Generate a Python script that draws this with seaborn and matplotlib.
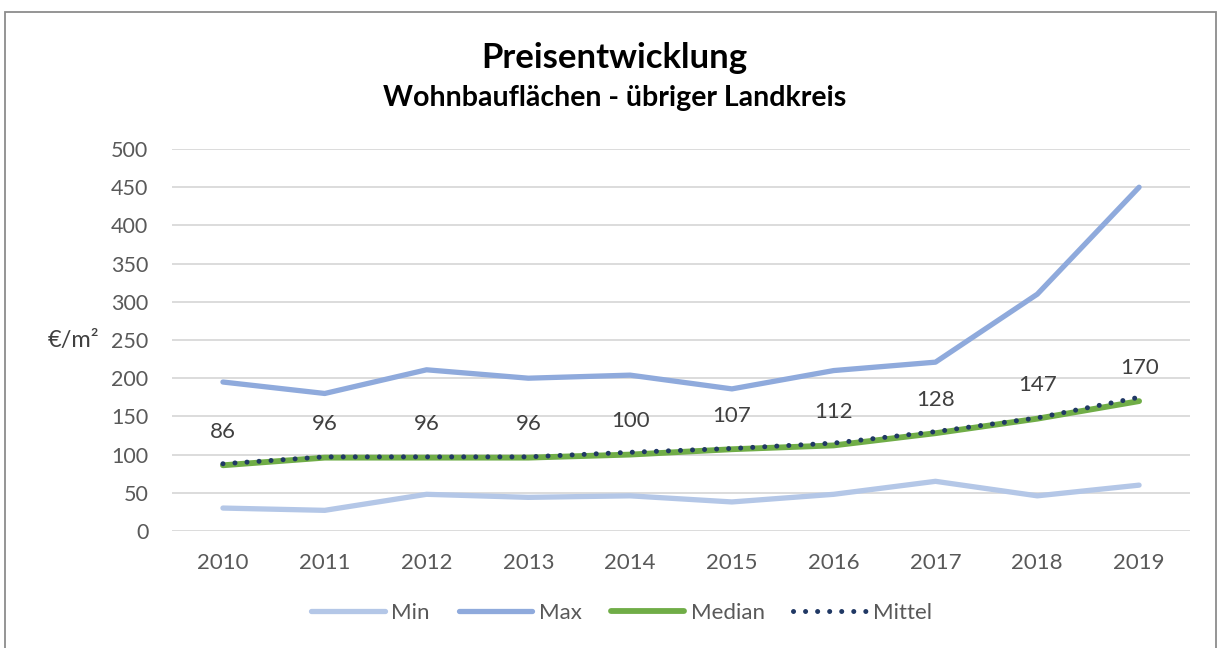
import pandas as pd
import matplotlib.pyplot as plt
import seaborn as sns
from matplotlib.patches import Rectangle

# Daten
jahre = ['2010', '2011', '2012', '2013', '2014', '2015', '2016', '2017', '2018', '2019']
min_werte = [30, 27, 48, 44, 46, 38, 48, 65, 46, 60]
max_werte = [195, 180, 211, 200, 204, 186, 210, 221, 310, 450]
median_werte = [86, 96, 96, 96, 100, 107, 112, 128, 147, 170]
mittel_werte = [88, 97, 97, 97, 103, 108, 115, 130, 148, 175]

sns.set_style('white')
plt.rcParams['font.family'] = ['Lato', 'DejaVu Sans']

fig = plt.figure(figsize=(12.21, 6.48), dpi=100)
ax = fig.add_axes([0.1409, 0.1806, 0.8337, 0.5894])

df = pd.DataFrame({'Jahr': jahre, 'Min': min_werte, 'Max': max_werte,
                   'Median': median_werte, 'Mittel': mittel_werte})

sns.lineplot(data=df, x='Jahr', y='Min', ax=ax, color='#B4C7E7', lw=3.8,
             label='Min', solid_capstyle='round')
sns.lineplot(data=df, x='Jahr', y='Max', ax=ax, color='#8FAADC', lw=3.8,
             label='Max', solid_capstyle='round')
sns.lineplot(data=df, x='Jahr', y='Median', ax=ax, color='#70AD47', lw=4.2,
             label='Median', solid_capstyle='round')
sns.lineplot(data=df, x='Jahr', y='Mittel', ax=ax, color='#203864', lw=3.6,
             label='Mittel', linestyle=(0, (0.01, 2.4)), dash_capstyle='round')

# Datenbeschriftungen (Median)
for i, v in enumerate(median_werte):
    ax.annotate(str(v), (i, v), xytext=(0, 24), textcoords='offset points',
                ha='center', va='center', fontsize=16, color='#404040')

ax.set_xlim(-0.5, len(jahre) - 0.5)
ax.set_ylim(0, 500)
ax.set_yticks(range(0, 501, 50))
ax.grid(axis='y', color='#D9D9D9', lw=1.3)
ax.set_axisbelow(True)
for s in ax.spines.values():
    s.set_visible(False)
ax.tick_params(axis='both', length=0, labelcolor='#595959')
ax.tick_params(axis='x', pad=16, labelsize=16)
ax.tick_params(axis='y', pad=17, labelsize=15.5)
ax.set_xlabel('')
ax.set_ylabel('€/m²', rotation=0, fontsize=17, color='#404040', labelpad=0,
              ha='center', va='center')
ax.yaxis.set_label_coords(-0.097, 0.50)

ax.legend(loc='center', bbox_to_anchor=(0.442, -0.215), ncol=4, frameon=False,
          fontsize=16, labelcolor='#595959', handlelength=3.3, handletextpad=0.3,
          columnspacing=1.3)

fig.text(0.503, 0.911, 'Preisentwicklung', ha='center', va='center',
         fontsize=25, fontweight='bold', color='black')
fig.text(0.503, 0.848, 'Wohnbauflächen - übriger Landkreis', ha='center',
         va='center', fontsize=20.5, fontweight='bold', color='black')

# Rahmen
fig.patches.append(Rectangle((5 / 1221, -0.05), 1211 / 1221, 1.05 - 12 / 648,
                             transform=fig.transFigure, fill=False,
                             edgecolor='#8C8C8C', lw=1.3))

fig.savefig('out.png', dpi=100)
